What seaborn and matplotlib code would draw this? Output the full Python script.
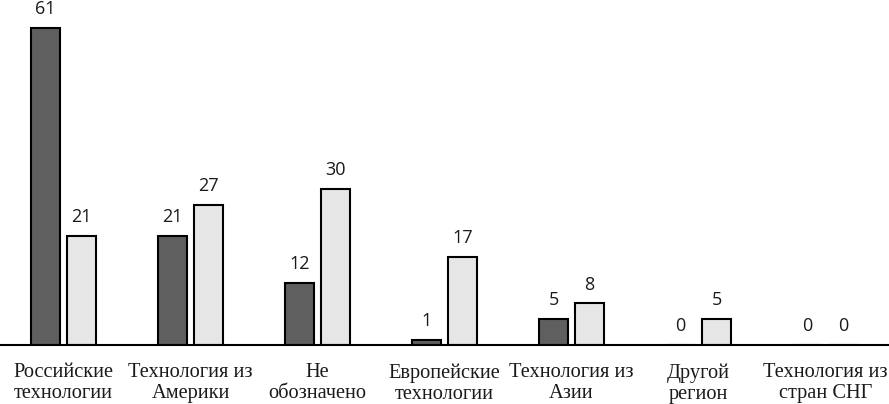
import pandas as pd
import matplotlib
matplotlib.use("Agg")
import matplotlib.pyplot as plt
import seaborn as sns

# Data
categories = ["Российские\nтехнологии", "Технология из\nАмерики", "Не\nобозначено",
              "Европейские\nтехнологии", "Технология из\nАзии", "Другой\nрегион",
              "Технология из\nстран СНГ"]
series_a = [61, 21, 12, 1, 5, 0, 0]
series_b = [21, 27, 30, 17, 8, 5, 0]
series_names = ["A", "B"]
colors = ["#5f5f5f", "#e6e6e6"]

df = pd.DataFrame({
    "category": categories * 2,
    "value": series_a + series_b,
    "series": [series_names[0]] * len(categories) + [series_names[1]] * len(categories),
})

sns.set_style("white")
plt.rcParams["font.family"] = ["Liberation Serif", "DejaVu Serif"]

fig = plt.figure(figsize=(8.89, 4.04), dpi=100)
ax = fig.add_axes([0, 0.146, 1, 0.854])

sns.barplot(data=df, x="category", y="value", hue="series", order=categories,
            hue_order=series_names, palette=colors, width=0.566, gap=0.194,
            edgecolor="black", linewidth=1.5, saturation=1, legend=False, ax=ax)

for cont in ax.containers:
    ax.bar_label(cont, padding=7, fontsize=13, color="#1a1a1a",
                 family=["Open Sans", "DejaVu Sans"])

ax.set_xlim(-0.5, 6.5)
ax.set_ylim(0, 66.4)
ax.set_xlabel("")
ax.set_ylabel("")
ax.set_yticks([])
ax.tick_params(axis="x", length=0, pad=13, labelsize=14.7, colors="#1a1a1a")
for lbl in ax.get_xticklabels():
    lbl.set_linespacing(1.15)
for side in ["top", "left", "right"]:
    ax.spines[side].set_visible(False)
ax.spines["bottom"].set_color("black")
ax.spines["bottom"].set_linewidth(1.5)

fig.savefig("out.png", dpi=100)
